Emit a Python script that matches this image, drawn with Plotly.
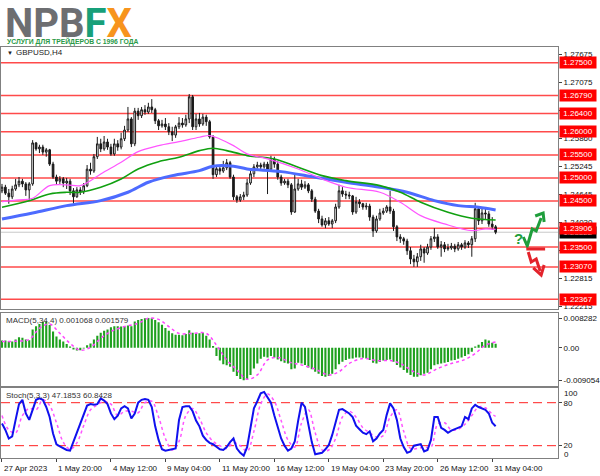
import plotly.graph_objects as go

# ---------------- data ----------------
bars = list(range(146))

opens = [1.2472,1.2480,1.2467,1.2459,1.2476,1.2485,1.2493,1.2487,1.2474,1.2487,
 1.2576,1.2563,1.2567,1.2556,1.2561,1.2530,1.2502,1.2493,1.2498,1.2489,
 1.2493,1.2472,1.2459,1.2474,1.2470,1.2483,1.2519,1.2515,1.2546,1.2574,
 1.2563,1.2578,1.2567,1.2552,1.2574,1.2567,1.2585,1.2604,1.2628,1.2574,
 1.2645,1.2635,1.2648,1.2643,1.2654,1.2648,1.2624,1.2613,1.2617,1.2611,
 1.2600,1.2593,1.2611,1.2619,1.2615,1.2628,1.2676,1.2611,1.2628,1.2617,
 1.2632,1.2622,1.2589,1.2507,1.2520,1.2515,1.2522,1.2533,1.2502,1.2459,
 1.2452,1.2459,1.2463,1.2489,1.2509,1.2524,1.2528,1.2524,1.2530,1.2519,
 1.2541,1.2530,1.2502,1.2489,1.2493,1.2485,1.2426,1.2476,1.2487,1.2480,
 1.2485,1.2472,1.2454,1.2428,1.2411,1.2398,1.2407,1.2400,1.2407,1.2437,
 1.2472,1.2465,1.2463,1.2461,1.2426,1.2448,1.2444,1.2437,1.2439,1.2415,
 1.2385,1.2411,1.2424,1.2428,1.2437,1.2428,1.2394,1.2372,1.2368,1.2363,
 1.2342,1.2324,1.2318,1.2329,1.2346,1.2337,1.2350,1.2368,1.2372,1.2350,
 1.2355,1.2346,1.2348,1.2352,1.2346,1.2355,1.2350,1.2359,1.2355,1.2368,
 1.2433,1.2407,1.2424,1.2422,1.2400,1.2394]

highs = [1.2487,1.2485,1.2476,1.2483,1.2498,1.2502,1.2498,1.2491,1.2491,1.2582,
 1.2578,1.2572,1.2572,1.2565,1.2563,1.2535,1.2507,1.2504,1.2502,1.2500,
 1.2498,1.2478,1.2480,1.2480,1.2489,1.2528,1.2533,1.2552,1.2589,1.2585,
 1.2591,1.2585,1.2574,1.2585,1.2582,1.2598,1.2613,1.2654,1.2632,1.2652,
 1.2652,1.2654,1.2658,1.2663,1.2671,1.2652,1.2628,1.2626,1.2630,1.2619,
 1.2611,1.2615,1.2632,1.2630,1.2637,1.2682,1.2680,1.2639,1.2641,1.2639,
 1.2637,1.2626,1.2593,1.2526,1.2524,1.2537,1.2541,1.2537,1.2507,1.2463,
 1.2465,1.2470,1.2498,1.2515,1.2530,1.2535,1.2533,1.2535,1.2535,1.2548,
 1.2546,1.2537,1.2507,1.2498,1.2498,1.2489,1.2509,1.2498,1.2496,1.2493,
 1.2489,1.2476,1.2459,1.2433,1.2418,1.2413,1.2415,1.2411,1.2444,1.2485,
 1.2480,1.2472,1.2470,1.2463,1.2459,1.2454,1.2446,1.2446,1.2444,1.2420,
 1.2418,1.2433,1.2435,1.2441,1.2472,1.2433,1.2398,1.2378,1.2372,1.2368,
 1.2350,1.2333,1.2337,1.2355,1.2350,1.2357,1.2374,1.2391,1.2378,1.2363,
 1.2361,1.2357,1.2359,1.2357,1.2361,1.2359,1.2365,1.2363,1.2374,1.2446,
 1.2439,1.2433,1.2435,1.2428,1.2415,1.2398]

lows = [1.2467,1.2463,1.2444,1.2454,1.2472,1.2480,1.2480,1.2461,1.2450,1.2483,
 1.2559,1.2554,1.2550,1.2546,1.2526,1.2498,1.2485,1.2487,1.2480,1.2476,
 1.2463,1.2444,1.2457,1.2463,1.2465,1.2480,1.2507,1.2511,1.2541,1.2556,
 1.2559,1.2561,1.2548,1.2548,1.2559,1.2562,1.2580,1.2600,1.2567,1.2569,
 1.2626,1.2630,1.2637,1.2639,1.2641,1.2617,1.2604,1.2609,1.2604,1.2593,
 1.2580,1.2587,1.2606,1.2609,1.2611,1.2619,1.2604,1.2604,1.2611,1.2613,
 1.2613,1.2585,1.2498,1.2502,1.2507,1.2511,1.2517,1.2498,1.2452,1.2446,
 1.2448,1.2452,1.2459,1.2485,1.2502,1.2520,1.2517,1.2520,1.2465,1.2515,
 1.2522,1.2496,1.2483,1.2485,1.2478,1.2420,1.2424,1.2472,1.2474,1.2476,
 1.2467,1.2448,1.2424,1.2402,1.2394,1.2391,1.2396,1.2391,1.2402,1.2433,
 1.2459,1.2454,1.2454,1.2420,1.2422,1.2435,1.2431,1.2431,1.2407,1.2372,
 1.2381,1.2407,1.2420,1.2424,1.2422,1.2385,1.2363,1.2359,1.2355,1.2333,
 1.2313,1.2307,1.2307,1.2320,1.2316,1.2333,1.2344,1.2361,1.2346,1.2329,
 1.2339,1.2342,1.2344,1.2339,1.2342,1.2344,1.2346,1.2348,1.2329,1.2361,
 1.2398,1.2400,1.2411,1.2394,1.2387,1.2378]

closes = [1.2480,1.2467,1.2459,1.2476,1.2485,1.2493,1.2487,1.2474,1.2487,1.2576,
 1.2563,1.2567,1.2556,1.2561,1.2530,1.2502,1.2493,1.2498,1.2489,1.2493,
 1.2472,1.2459,1.2474,1.2470,1.2483,1.2519,1.2515,1.2546,1.2574,1.2563,
 1.2578,1.2567,1.2552,1.2574,1.2567,1.2585,1.2604,1.2628,1.2574,1.2645,
 1.2635,1.2648,1.2643,1.2654,1.2648,1.2624,1.2613,1.2617,1.2611,1.2600,
 1.2593,1.2611,1.2619,1.2615,1.2628,1.2676,1.2611,1.2628,1.2617,1.2632,
 1.2622,1.2589,1.2507,1.2520,1.2515,1.2522,1.2533,1.2502,1.2459,1.2452,
 1.2459,1.2463,1.2489,1.2509,1.2524,1.2528,1.2524,1.2530,1.2519,1.2541,
 1.2530,1.2502,1.2489,1.2493,1.2485,1.2426,1.2476,1.2487,1.2480,1.2485,
 1.2472,1.2454,1.2428,1.2411,1.2398,1.2407,1.2400,1.2407,1.2437,1.2472,
 1.2465,1.2463,1.2461,1.2426,1.2448,1.2444,1.2437,1.2439,1.2415,1.2385,
 1.2411,1.2424,1.2428,1.2437,1.2428,1.2394,1.2372,1.2368,1.2363,1.2342,
 1.2324,1.2318,1.2329,1.2346,1.2337,1.2350,1.2368,1.2372,1.2350,1.2355,
 1.2346,1.2348,1.2352,1.2346,1.2355,1.2350,1.2359,1.2355,1.2368,1.2433,
 1.2407,1.2424,1.2422,1.2400,1.2394,1.23822]

# moving averages (sampled along the curves)
ma_fast_idx = [0,5,9,14,19,23,26,29,35,40,46,52,58,61,64,68,72,78,87,94,101,111,117,123,130,138,142,145]
ma_fast = [1.24485,1.24522,1.24559,1.24833,1.24848,1.24833,1.24941,1.25087,1.25340,1.25570,1.25701,
           1.25788,1.25883,1.25920,1.25846,1.25701,1.25521,1.25412,1.25195,1.24978,1.24798,1.24689,
           1.24473,1.24182,1.24002,1.23856,1.23893,1.23882]
ma_mid_idx = [0,8,14,19,23,29,35,40,46,52,58,62,66,70,72,80,87,94,101,111,117,123,131,138,145]
ma_mid = [1.24364,1.24507,1.24653,1.24689,1.24689,1.24798,1.24978,1.25195,1.25353,1.25449,1.25592,
          1.25644,1.25592,1.25521,1.25484,1.25412,1.25232,1.25050,1.24941,1.24833,1.24689,1.24473,
          1.24255,1.24125,1.24088]
ma_slow_idx = [0,9,19,29,37,43,50,58,62,68,72,82,92,101,111,119,127,134,140,145]
ma_slow = [1.24110,1.24240,1.24399,1.24507,1.24689,1.24906,1.25050,1.25158,1.25254,1.25254,1.25195,
           1.25137,1.25015,1.24906,1.24798,1.24689,1.24507,1.24399,1.24364,1.24305]

levels = [1.27500,1.26790,1.26400,1.26000,1.25500,1.25000,1.24500,1.23906,1.23500,1.23070,1.22367]
price_ticks = [1.27675,1.27075,1.26460,1.25860,1.25245,1.24645,1.24030,1.23435,1.22815,1.22215]
last_price = 1.23822

macd_hist = [0.0020,0.0020,0.0018,0.0017,0.0023,0.0029,0.0028,0.0023,0.0021,0.0051,
 0.0060,0.0066,0.0072,0.0073,0.0063,0.0045,0.0031,0.0023,0.0017,0.0010,
 0.0003,-0.0005,-0.0008,-0.0007,-0.0002,0.0007,0.0012,0.0023,0.0033,0.0042,
 0.0047,0.0051,0.0057,0.0060,0.0060,0.0059,0.0059,0.0062,0.0060,0.0073,
 0.0077,0.0080,0.0082,0.00828,0.0082,0.0077,0.0071,0.0064,0.0055,0.0047,
 0.0040,0.0036,0.0036,0.0035,0.0038,0.0049,0.0042,0.0040,0.0040,0.0042,
 0.0033,0.0023,0.0005,-0.0023,-0.0036,-0.0046,-0.0049,-0.0053,-0.0067,-0.0079,
 -0.0087,-0.00905,-0.0088,-0.0076,-0.0058,-0.0044,-0.0031,-0.0025,-0.0027,-0.0023,
 -0.0027,-0.0033,-0.0038,-0.0042,-0.0044,-0.0060,-0.0058,-0.0042,-0.0044,-0.0048,
 -0.0055,-0.0060,-0.0067,-0.0073,-0.0079,-0.0081,-0.0079,-0.0073,-0.0060,-0.0046,
 -0.0039,-0.0034,-0.0031,-0.0030,-0.0027,-0.0027,-0.0028,-0.0030,-0.0034,-0.0042,
 -0.0044,-0.0040,-0.0036,-0.0034,-0.0033,-0.0039,-0.0048,-0.0055,-0.0062,-0.0070,
 -0.0076,-0.0081,-0.0081,-0.0077,-0.0073,-0.0070,-0.0060,-0.0049,-0.0046,-0.0044,
 -0.0042,-0.0040,-0.0036,-0.0034,-0.0031,-0.0027,-0.0023,-0.0018,-0.0011,0.0003,
 0.0008,0.0016,0.0023,0.0020,0.0014,0.001068]
macd_sig_idx = [0,4,8,11,14,17,20,23,26,29,32,36,40,43,46,49,52,56,60,63,66,69,72,75,78,81,85,88,92,96,99,
                102,106,110,114,117,121,124,128,132,136,139,142,145]
macd_sig = [0.0017,0.0018,0.0023,0.0054,0.0066,0.0040,0.0012,-0.0007,0.0001,0.0026,0.0045,0.0059,0.0068,
            0.0082,0.0079,0.0059,0.0040,0.0040,0.0040,0.0007,-0.0034,-0.0062,-0.0088,-0.0076,-0.0034,-0.0027,
            -0.0042,-0.0048,-0.0060,-0.0076,-0.0067,-0.0044,-0.0030,-0.0036,-0.0036,-0.0044,-0.0067,-0.0076,
            -0.0058,-0.0044,-0.0033,-0.0016,0.0007,0.001579]

stoch_main = [51,42,30,33,56,78,84,65,56,70,84,86,84,74,60,37,22,19,16,14,
 13,26,40,53,65,76,78,77,78,86,83,78,65,57,62,72,75,72,58,65,
 80,84,85,84,74,47,28,15,13,14,15,16,56,74,75,75,68,55,47,34,
 28,24,22,18,15,14,18,25,30,16,10,6,18,45,72,82,93,95,88,80,
 62,45,30,20,13,16,26,55,80,74,48,25,8,9,10,15,21,35,51,70,
 71,68,65,60,48,43,38,36,40,26,30,37,42,63,79,72,56,30,18,10,
 12,20,21,22,12,14,28,60,60,45,42,38,41,43,45,47,60,57,72,77,
 74,72,70,65,52,47.1853]
stoch_sig_idx = [0,2,4,6,8,10,12,14,16,18,20,22,24,26,28,30,32,34,36,38,40,42,44,46,48,50,52,54,56,58,60,
                 62,64,66,68,70,72,74,76,78,80,82,84,86,88,90,92,94,96,98,100,102,104,106,108,110,112,114,
                 116,118,120,122,124,126,128,130,132,134,136,138,140,142,144,145]
stoch_sig = [62,42,38,62,72,70,84,76,52,25,15,24,48,70,77,82,78,62,68,68,66,80,82,60,30,14,26,62,72,58,38,
             26,20,16,24,20,12,40,78,92,82,55,28,18,52,70,38,14,14,30,60,68,60,45,38,32,34,60,
             70,40,16,16,18,18,50,52,42,43,50,62,74,73,64,60.8428]

date_ticks = [0,16,32,48,64,80,96,112,128,144]
date_labels = ["27 Apr 2023","1 May 20:00","4 May 12:00","9 May 04:00","11 May 20:00",
               "16 May 12:00","19 May 04:00","23 May 20:00","26 May 12:00","31 May 04:00"]

# ---------------- figure ----------------
FONT = "Liberation Sans"
W, H = 600, 476
PL, PR, PT, PB = 0, 562, 47, 458   # plot area in pixels

def pp(x, y):
    return x / (PR - PL), (PB - y) / (PB - PT)

fig = go.Figure()

fig.add_trace(go.Scatter(x=ma_slow_idx, y=ma_slow, mode="lines", line=dict(color="#4d6bff", width=3, shape="spline"),
                         xaxis="x", yaxis="y", hoverinfo="skip"))
fig.add_trace(go.Scatter(x=ma_mid_idx, y=ma_mid, mode="lines", line=dict(color="#10a010", width=1.6, shape="spline"),
                         xaxis="x", yaxis="y", hoverinfo="skip"))
fig.add_trace(go.Scatter(x=ma_fast_idx, y=ma_fast, mode="lines", line=dict(color="#ff55ff", width=1.2, shape="spline"),
                         xaxis="x", yaxis="y", hoverinfo="skip"))

fig.add_trace(go.Candlestick(x=bars, open=opens, high=highs, low=lows, close=closes,
                             increasing=dict(line=dict(color="#1a1a1a", width=1), fillcolor="#ffffff"),
                             decreasing=dict(line=dict(color="#1a1a1a", width=1), fillcolor="#1a1a1a"),
                             whiskerwidth=0, xaxis="x", yaxis="y", hoverinfo="skip"))

fig.add_trace(go.Bar(x=bars, y=macd_hist, marker=dict(color="#1ea01e", line=dict(width=0)), width=0.62,
                     xaxis="x2", yaxis="y2", hoverinfo="skip"))
fig.add_trace(go.Scatter(x=macd_sig_idx, y=macd_sig, mode="lines",
                         line=dict(color="#ff44ff", width=1.5, dash="dot", shape="spline"),
                         xaxis="x2", yaxis="y2", hoverinfo="skip"))

fig.add_trace(go.Scatter(x=stoch_sig_idx, y=stoch_sig, mode="lines",
                         line=dict(color="#ff55ff", width=1.5, dash="dot", shape="spline"),
                         xaxis="x3", yaxis="y3", hoverinfo="skip"))
fig.add_trace(go.Scatter(x=bars, y=stoch_main, mode="lines", line=dict(color="#1010ee", width=2),
                         xaxis="x3", yaxis="y3", hoverinfo="skip"))

shapes = []
shapes.append(dict(type="line", xref="paper", yref="y", x0=0, x1=1, y0=last_price, y1=last_price,
                   line=dict(color="#c8c8c8", width=1), layer="below"))
for lv in levels:
    shapes.append(dict(type="line", xref="paper", yref="y", x0=0, x1=1, y0=lv, y1=lv,
                       line=dict(color="#ff4a4a", width=1.5), layer="below"))
for lv in (80, 20):
    shapes.append(dict(type="line", xref="paper", yref="y3", x0=0, x1=1, y0=lv, y1=lv,
                       line=dict(color="#ff2020", width=1, dash="9px,5px"), layer="below"))

def path(points):
    s = ""
    for k, (x, y) in enumerate(points):
        a, b = pp(x, y)
        s += ("M" if k == 0 else "L") + f"{a:.5f},{b:.5f} "
    return s

GREEN = "#1f9e3c"
REDA = "#e3232b"
shapes.append(dict(type="path", xref="paper", yref="paper",
                   path=path([(527, 237), (531, 246), (536, 229), (540, 231), (545, 218)]),
                   line=dict(color=GREEN, width=3)))
shapes.append(dict(type="path", xref="paper", yref="paper",
                   path=path([(539, 216), (547, 213), (548, 222)]), line=dict(color=GREEN, width=3)))
shapes.append(dict(type="path", xref="paper", yref="paper",
                   path=path([(530, 249), (549, 249)]), line=dict(color=REDA, width=3)))
shapes.append(dict(type="path", xref="paper", yref="paper",
                   path=path([(532, 252), (535, 262), (540, 259), (544, 271)]), line=dict(color=REDA, width=3)))
shapes.append(dict(type="path", xref="paper", yref="paper",
                   path=path([(537, 268), (545, 275), (548, 265)]), line=dict(color=REDA, width=3)))

ann = []
def txt(x, y, t, size=8, color="#111", anchor="left", bold=False, family=FONT, **kw):
    a, b = pp(x, y)
    ann.append(dict(xref="paper", yref="paper", x=a, y=b, text=(f"<b>{t}</b>" if bold else t),
                    showarrow=False, xanchor=anchor, yanchor="middle",
                    font=dict(family=family, size=size, color=color), **kw))

# logo
txt(2, 23, '<span style="color:#6d6e71">NPB</span><span style="color:#17a07a">F</span>'
            '<span style="color:#f7941d">X</span>', size=40, bold=True, family="Roboto")
txt(4, 42, "УСЛУГИ ДЛЯ ТРЕЙДЕРОВ С 1996 ГОДА", size=6.8, color="#2a9a48", bold=True)

txt(4, 53, "▼", size=6, color="#222")
txt(13, 53, "GBPUSD,H4", size=8, color="#222")
txt(3, 320, "MACD(5,34,4) 0.001068 0.001579", size=8, color="#333")
txt(3, 395, "Stoch(5,3,3) 47.1853 60.8428", size=8, color="#333")

# current price label (black) then level labels (red)
ann.append(dict(xref="paper", yref="y", x=1, y=last_price, xanchor="left", yanchor="middle", xshift=1,
                text=f"{last_price:.5f}", showarrow=False, bgcolor="#000000", width=34, height=9,
                font=dict(family=FONT, size=8, color="#ffffff")))
for lv in levels:
    ann.append(dict(xref="paper", yref="y", x=1, y=lv, xanchor="left", yanchor="middle", xshift=1,
                    text=f"{lv:.5f}", showarrow=False, bgcolor="#ff0000", width=34, height=9,
                    font=dict(family=FONT, size=8, color="#ffffff")))

txt(566, 393, "100", size=8)
txt(566, 454, "0", size=8)

for t, lab in zip(date_ticks, date_labels):
    ann.append(dict(xref="x3", yref="paper", x=t, y=pp(0, 468)[1], xanchor="left", yanchor="middle",
                    xshift=0, text=lab, showarrow=False, font=dict(family=FONT, size=8, color="#111")))

# question mark
txt(516, 238, "?", size=15, color=GREEN, bold=True)

XR = [-0.29, 163.32]
axis_common = dict(showgrid=False, zeroline=False, showline=True, mirror=True, linecolor="#808080",
                   linewidth=1, fixedrange=True)

fig.update_layout(
    width=W, height=H, margin=dict(l=PL, r=W - PR, t=PT, b=H - PB),
    paper_bgcolor="white", plot_bgcolor="white", showlegend=False,
    font=dict(family=FONT, size=8, color="#111"),
    xaxis=dict(domain=[0, 1], anchor="y", range=XR, showticklabels=False, rangeslider=dict(visible=False),
               **axis_common),
    xaxis2=dict(domain=[0, 1], anchor="y2", range=XR, matches="x", showticklabels=False, **axis_common),
    xaxis3=dict(domain=[0, 1], anchor="y3", range=XR, matches="x", showticklabels=False,
                ticks="outside", ticklen=3, tickcolor="#444", tickvals=date_ticks, **axis_common),
    yaxis=dict(domain=[(PB - 309) / (PB - PT), 1], anchor="x", side="right", range=[1.22156, 1.27841],
               tickvals=price_ticks, ticktext=[f"{v:.5f}" for v in price_ticks], ticks="outside",
               ticklen=3, tickcolor="#444", tickfont=dict(size=8, color="#111"), **axis_common),
    yaxis2=dict(domain=[(PB - 386) / (PB - PT), (PB - 312.7) / (PB - PT)], anchor="x2", side="right",
                range=[-0.010686, 0.009765], tickvals=[0.008282, 0, -0.009054],
                ticktext=["0.008282", "0.00", "-0.009054"], ticks="outside", ticklen=3, tickcolor="#444",
                tickfont=dict(size=8, color="#111"), **axis_common),
    yaxis3=dict(domain=[0, (PB - 388) / (PB - PT)], anchor="x3", side="right", range=[2.8, 100.5],
                tickvals=[80, 20], ticktext=["80", "20"], ticks="outside", ticklen=3, tickcolor="#444",
                tickfont=dict(size=8, color="#111"), **axis_common),
    shapes=shapes, annotations=ann, bargap=0.3,
)

fig.write_html("out.html", config={"displayModeBar": False, "staticPlot": True},
               post_script="document.body.style.margin='0';document.body.style.padding='0';")
